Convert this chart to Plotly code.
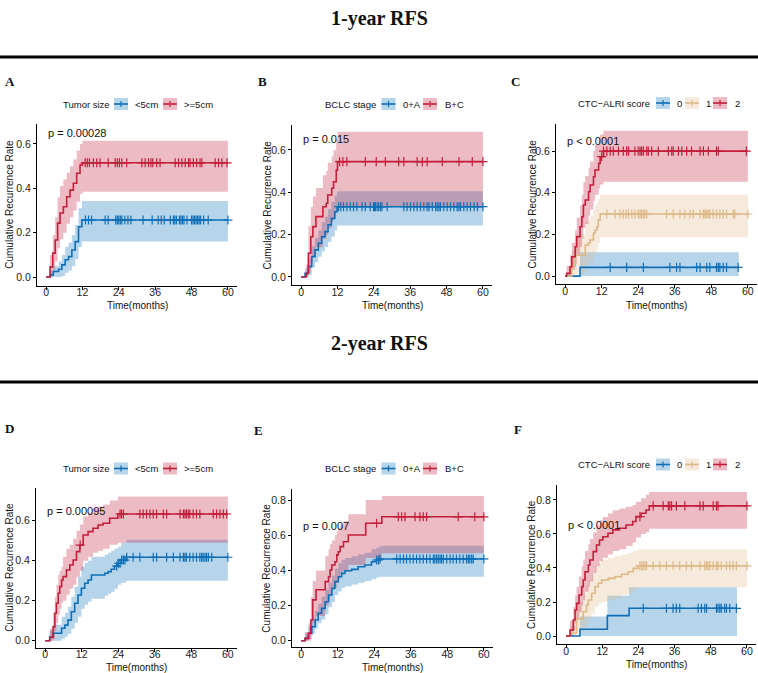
import numpy as np
import plotly.graph_objects as go

W, H = 758, 673

# ---------------- data ----------------
time_ticks = [0, 12, 24, 36, 48, 60]
rate_ticks_1 = [0.0, 0.2, 0.4, 0.6]
rate_ticks_2 = [0.0, 0.2, 0.4, 0.6, 0.8]

row_titles = ["1-year RFS", "2-year RFS"]

# Panel A: 1-year, tumor size
a_lt5_t   = [0, 1.3, 2.4, 4.1, 5.2, 6.3, 7.4, 8.5, 9.6, 10.7, 11.8, 60]
a_lt5_est = [0, 0.01, 0.025, 0.035, 0.055, 0.078, 0.092, 0.122, 0.16, 0.227, 0.257, 0.257]
a_lt5_lo  = [0, 0, 0, 0, 0.005, 0.02, 0.03, 0.05, 0.08, 0.135, 0.16, 0.16]
a_lt5_hi  = [0, 0.03, 0.05, 0.07, 0.1, 0.135, 0.155, 0.19, 0.235, 0.31, 0.343, 0.343]
a_lt5_cens = [13, 14, 15, 19.5, 20.5, 23, 23.5, 24, 24.5, 25, 26, 27, 28, 32, 35, 37, 38, 39, 41,
              42, 42.5, 43, 44, 44.5, 45, 45.5, 46.5, 48, 48.5, 49, 49.5, 50, 50.5, 51, 52, 53.5, 60]
a_ge5_t   = [0, 1.3, 2.2, 3.0, 3.8, 4.6, 5.7, 6.8, 7.9, 9.0, 10.1, 11.2, 12.0, 60]
a_ge5_est = [0, 0.046, 0.108, 0.167, 0.243, 0.289, 0.317, 0.362, 0.392, 0.423, 0.468, 0.505, 0.515, 0.515]
a_ge5_lo  = [0, 0, 0.03, 0.07, 0.13, 0.17, 0.2, 0.24, 0.27, 0.3, 0.34, 0.375, 0.385, 0.385]
a_ge5_hi  = [0, 0.1, 0.19, 0.27, 0.36, 0.41, 0.44, 0.47, 0.5, 0.53, 0.57, 0.6, 0.615, 0.615]
a_ge5_cens = [12.9, 13.6, 14.3, 15.6, 16.7, 17.8, 20.5, 22.8, 23.5, 24.2, 25, 26.6, 31.6, 32.7, 33.8,
              34.6, 35.2, 36.5, 37.6, 42.6, 43.7, 44.8, 45.9, 47, 47.5, 48.6, 49.7, 50.8, 51.4, 55.8,
              56.9, 58, 59.7]

# Panel B: 1-year, BCLC stage
b_0a_t   = [0, 1.3, 2.4, 3.5, 4.6, 5.7, 6.8, 7.9, 8.9, 10.0, 11.1, 11.9, 60]
b_0a_est = [0, 0.017, 0.049, 0.096, 0.128, 0.159, 0.19, 0.214, 0.246, 0.277, 0.308, 0.332, 0.332]
b_0a_lo  = [0, 0, 0.01, 0.045, 0.07, 0.095, 0.12, 0.14, 0.165, 0.19, 0.22, 0.243, 0.243]
b_0a_hi  = [0, 0.04, 0.085, 0.145, 0.185, 0.22, 0.26, 0.285, 0.32, 0.355, 0.385, 0.405, 0.405]
b_0a_cens = [12.4, 13.1, 14, 15.1, 16.2, 17.3, 18.4, 20.1, 21.2, 22.8, 23.9, 24.2, 24.5, 25.1, 25.6,
             26.2, 26.7, 28.4, 33.9, 35, 36.1, 37.2, 38.3, 39.4, 40.5, 41.6, 42.2, 43.3, 44.4, 44.9,
             45.5, 46, 47.1, 48.2, 49.3, 50.4, 51.5, 52.1, 52.6, 53.7, 54.8, 55.9, 57.1, 58.2, 60]
b_bc_t   = [0, 1.7, 2.4, 3.2, 3.9, 4.9, 7.2, 8.3, 8.8, 10.1, 10.7, 11.6, 12.0, 60]
b_bc_est = [0, 0.017, 0.112, 0.19, 0.238, 0.285, 0.332, 0.348, 0.387, 0.419, 0.45, 0.505, 0.545, 0.545]
b_bc_lo  = [0, 0, 0.02, 0.07, 0.1, 0.14, 0.18, 0.2, 0.23, 0.26, 0.28, 0.31, 0.33, 0.33]
b_bc_hi  = [0, 0.06, 0.24, 0.33, 0.38, 0.42, 0.48, 0.5, 0.54, 0.57, 0.6, 0.65, 0.686, 0.686]
b_bc_cens = [12.7, 13.8, 15.1, 21.2, 24.8, 27.8, 32.2, 33.9, 38.3, 40, 41.6, 46.6, 52.1, 56.5, 60]

# Panel C: 1-year, CTC-ALRI score
c0_t   = [0, 4.9, 57]
c0_est = [0, 0.042, 0.042]
c0_lo  = [0, 0, 0]
c0_hi  = [0, 0.114, 0.114]
c0_cens = [14.8, 20.2, 25.7, 34.4, 36.6, 37.7, 43.2, 44.3, 46.5, 47.5, 49.7, 50.3, 50.8, 51.9, 53, 56.8]
c1_t   = [0, 2.2, 3.3, 6.6, 7.7, 8.2, 9.3, 9.8, 10.4, 10.9, 11.5, 60]
c1_est = [0, 0.05, 0.1, 0.149, 0.16, 0.173, 0.205, 0.22, 0.237, 0.27, 0.298, 0.298]
c1_lo  = [0, 0, 0.01, 0.05, 0.06, 0.07, 0.1, 0.11, 0.13, 0.16, 0.185, 0.185]
c1_hi  = [0, 0.12, 0.2, 0.26, 0.27, 0.29, 0.32, 0.34, 0.35, 0.37, 0.392, 0.392]
c1_cens = [13.7, 16.4, 18, 19.1, 20, 20.8, 21.9, 22.9, 24, 24.6, 25.1, 25.7, 26.2, 26.8, 33.3, 35.5,
           37.7, 39.3, 41, 42.1, 44.3, 45.4, 45.9, 46.4, 47, 47.5, 48.6, 49.7, 50.8, 51.9, 53, 55.2,
           55.7, 60]
c2_t   = [0, 0.5, 1.6, 2.2, 3.3, 3.8, 4.9, 5.5, 6.0, 6.6, 7.7, 8.2, 9.3, 9.8, 11.0, 11.5, 12.6, 60]
c2_est = [0, 0.013, 0.045, 0.093, 0.141, 0.189, 0.237, 0.285, 0.341, 0.365, 0.405, 0.437, 0.477,
          0.509, 0.541, 0.573, 0.6, 0.6]
c2_lo  = [0, 0, 0, 0.03, 0.06, 0.1, 0.14, 0.18, 0.23, 0.25, 0.29, 0.32, 0.36, 0.39, 0.42, 0.44,
          0.453, 0.453]
c2_hi  = [0, 0.05, 0.1, 0.16, 0.22, 0.28, 0.34, 0.39, 0.45, 0.48, 0.52, 0.55, 0.6, 0.63, 0.66, 0.68,
          0.698, 0.698]
c2_cens = [12, 12.6, 13.7, 14.8, 15.8, 17.5, 19.1, 20.2, 20.8, 22.9, 24, 24.6, 25.1, 25.7, 26.8, 27.3,
           28.4, 30.6, 33.9, 35, 35.5, 37.2, 38.3, 39.9, 41.5, 44.3, 45.4, 47, 49.7, 50.3, 59.5]

# Panel D: 2-year, tumor size
d_lt5_t   = [0, 1.5, 2.6, 5.4, 6.5, 7.5, 8.6, 9.7, 10.8, 11.9, 13.0, 14.1, 15.2, 19.6, 20.7, 21.7,
             22.8, 23.9, 25.0, 26.7, 60]
d_lt5_est = [0, 0.017, 0.037, 0.062, 0.078, 0.103, 0.145, 0.187, 0.228, 0.262, 0.287, 0.303, 0.328,
             0.337, 0.345, 0.357, 0.373, 0.387, 0.403, 0.417, 0.417]
d_lt5_lo  = [0, 0, 0, 0.01, 0.02, 0.035, 0.06, 0.09, 0.12, 0.16, 0.18, 0.195, 0.21, 0.225, 0.235,
             0.245, 0.26, 0.28, 0.29, 0.3, 0.3]
d_lt5_hi  = [0, 0.05, 0.08, 0.12, 0.14, 0.17, 0.22, 0.27, 0.32, 0.37, 0.39, 0.4, 0.42, 0.43, 0.44,
             0.45, 0.46, 0.47, 0.49, 0.505, 0.505]
d_lt5_cens = [23.5, 24.1, 24.6, 25.1, 25.7, 26.2, 26.8, 28.9, 31.1, 35.5, 36.6, 39.9, 42.1, 44.3, 45.4,
              45.9, 46.4, 47.5, 48.6, 49.7, 50.8, 51.4, 51.9, 52.5, 53, 53.6, 54.7, 60]
d_ge5_t   = [0, 1.5, 2.6, 3.2, 3.7, 4.3, 4.8, 5.4, 5.9, 7.0, 8.1, 9.2, 10.3, 11.4, 12.5, 14.1, 15.7,
             17.4, 19.0, 21.2, 23.9, 60]
d_ge5_est = [0, 0.017, 0.07, 0.137, 0.187, 0.237, 0.27, 0.303, 0.32, 0.353, 0.378, 0.403, 0.445,
             0.478, 0.528, 0.545, 0.562, 0.578, 0.587, 0.612, 0.633, 0.633]
d_ge5_lo  = [0, 0, 0.01, 0.05, 0.09, 0.13, 0.16, 0.19, 0.2, 0.23, 0.26, 0.28, 0.32, 0.35, 0.4, 0.42,
             0.44, 0.45, 0.46, 0.48, 0.49, 0.49]
d_ge5_hi  = [0, 0.06, 0.14, 0.22, 0.28, 0.33, 0.35, 0.37, 0.42, 0.46, 0.48, 0.51, 0.55, 0.58, 0.62,
             0.64, 0.66, 0.67, 0.68, 0.7, 0.72, 0.72]
d_ge5_cens = [11.5, 24.6, 25.1, 25.7, 31.1, 32.2, 33.3, 34.4, 35.5, 36.6, 38.8, 39.9, 44.3, 45.4, 45.9,
              46.4, 47, 47.5, 48.6, 49.7, 50.8, 55.2, 56.3, 57.4, 58.5, 59.6]

# Panel E: 2-year, BCLC stage
e_0a_t   = [0, 1.3, 2.4, 3.5, 4.6, 5.6, 6.7, 7.9, 9.0, 10.1, 11.1, 12.2, 13.3, 14.4, 16.6, 18.7, 20.9,
            23.1, 24.7, 25.8, 60]
e_0a_est = [0, 0.013, 0.042, 0.08, 0.118, 0.156, 0.184, 0.222, 0.26, 0.298, 0.336, 0.364, 0.383,
            0.398, 0.406, 0.421, 0.431, 0.449, 0.459, 0.465, 0.465]
e_0a_lo  = [0, 0, 0.01, 0.04, 0.07, 0.1, 0.12, 0.15, 0.19, 0.22, 0.26, 0.28, 0.3, 0.31, 0.32, 0.33,
            0.34, 0.35, 0.36, 0.364, 0.364]
e_0a_hi  = [0, 0.04, 0.08, 0.13, 0.17, 0.21, 0.25, 0.29, 0.33, 0.37, 0.41, 0.44, 0.46, 0.47, 0.48,
            0.49, 0.5, 0.52, 0.53, 0.54, 0.54]
e_0a_cens = [24.8, 25.4, 25.9, 31.4, 32.5, 33.6, 34.6, 35.7, 36.8, 37.9, 39, 40.1, 41.2, 42.3, 43.4,
             43.9, 44.5, 45, 45.6, 46.1, 46.7, 47.8, 48.9, 49.9, 51, 52.1, 53.2, 54.3, 54.9, 55.4, 56,
             56.5, 60]
e_bc_t   = [0, 1.3, 2.4, 3.2, 3.8, 4.9, 7.9, 9.0, 9.5, 10.1, 11.1, 11.7, 12.2, 12.8, 13.9, 15.5, 21.2,
            26.5, 60]
e_bc_est = [0, 0.013, 0.042, 0.118, 0.232, 0.29, 0.336, 0.364, 0.402, 0.431, 0.449, 0.488, 0.506,
            0.535, 0.563, 0.601, 0.668, 0.705, 0.705]
e_bc_lo  = [0, 0, 0, 0.03, 0.1, 0.14, 0.2, 0.23, 0.26, 0.29, 0.3, 0.33, 0.35, 0.38, 0.4, 0.43, 0.47,
            0.497, 0.497]
e_bc_hi  = [0, 0.05, 0.1, 0.25, 0.34, 0.4, 0.48, 0.52, 0.55, 0.57, 0.6, 0.62, 0.64, 0.66, 0.68, 0.72,
            0.8, 0.823, 0.823]
e_bc_cens = [24.8, 31.9, 33, 34.1, 37.4, 39, 40.1, 41.2, 51.6, 57, 60]

# Panel F: 2-year, CTC-ALRI score
f0_t   = [0, 4.6, 13.7, 20.9, 56.7]
f0_est = [0, 0.04, 0.12, 0.163, 0.163]
f0_lo  = [0, 0, 0, 0, 0]
f0_hi  = [0, 0.115, 0.237, 0.286, 0.286]
f0_cens = [25.6, 33.3, 35.5, 36.6, 37.7, 43.8, 44.9, 46, 46.6, 49.9, 50.4, 51, 51.5, 52.6, 53.2, 54.3,
           56.5]
f1_t   = [0, 1.3, 3.5, 5.7, 6.8, 7.4, 8.5, 9.6, 10.7, 11.8, 14.0, 16.2, 18.4, 20.6, 22.3, 23.9, 60]
f1_est = [0, 0.016, 0.1, 0.143, 0.182, 0.212, 0.251, 0.29, 0.31, 0.329, 0.339, 0.349, 0.363, 0.378,
          0.398, 0.413, 0.413]
f1_lo  = [0, 0, 0.02, 0.05, 0.08, 0.1, 0.13, 0.17, 0.19, 0.2, 0.21, 0.22, 0.24, 0.25, 0.27, 0.286, 0.286]
f1_hi  = [0, 0.06, 0.2, 0.25, 0.3, 0.33, 0.37, 0.41, 0.43, 0.45, 0.46, 0.47, 0.48, 0.49, 0.5, 0.51, 0.51]
f1_cens = [24.5, 25.1, 25.6, 26.2, 26.7, 28.9, 31.1, 33.3, 35.5, 37.7, 39.9, 41.6, 44.4, 46, 46.6, 47.1,
           47.7, 48.8, 49.9, 50.4, 51.5, 53.2, 54.3, 55.4, 56.5, 60]
f2_t   = [0, 1.3, 2.4, 3.0, 3.5, 4.3, 5.2, 5.7, 6.3, 7.4, 7.9, 9.0, 10.1, 11.1, 12.2, 13.9, 15.5, 17.7,
          19.9, 22.1, 23.2, 24.9, 26.5, 27.6, 60]
f2_est = [0, 0.035, 0.094, 0.153, 0.192, 0.241, 0.29, 0.329, 0.378, 0.418, 0.447, 0.496, 0.535, 0.565,
          0.584, 0.604, 0.624, 0.634, 0.653, 0.673, 0.702, 0.722, 0.741, 0.765, 0.765]
f2_lo  = [0, 0, 0.03, 0.07, 0.1, 0.14, 0.18, 0.21, 0.26, 0.29, 0.32, 0.37, 0.41, 0.44, 0.46, 0.48,
          0.5, 0.51, 0.53, 0.55, 0.58, 0.6, 0.61, 0.631, 0.631]
f2_hi  = [0, 0.09, 0.17, 0.24, 0.29, 0.35, 0.41, 0.45, 0.5, 0.54, 0.57, 0.61, 0.65, 0.68, 0.7, 0.72,
          0.74, 0.75, 0.76, 0.77, 0.79, 0.81, 0.83, 0.847, 0.847]
f2_cens = [24.5, 28.9, 32.2, 33.9, 34.4, 35, 36.6, 39.4, 44.4, 45.5, 48.8, 49.9, 50.4, 60]

# ---------------- styles ----------------
BLUE = "#0E6FB8"
RED = "#C41E3A"
TAN = "#DEB887"
ALPHA = 0.3
SANS = "Liberation Sans, Arial, sans-serif"
SERIF = "Liberation Serif, Times New Roman, serif"


def rgba(hexc, a):
    h = hexc.lstrip("#")
    r, g, b = int(h[0:2], 16), int(h[2:4], 16), int(h[4:6], 16)
    return f"rgba({r},{g},{b},{a})"


def px_x(px):
    return px / W


def px_y(py):
    return 1 - py / H


panels = [
    dict(letter="A", legend_title="Tumor size", pval="p = 0.00028", yticks=rate_ticks_1,
         curves=[("<5cm", BLUE, a_lt5_t, a_lt5_est, a_lt5_lo, a_lt5_hi, a_lt5_cens),
                 (">=5cm", RED, a_ge5_t, a_ge5_est, a_ge5_lo, a_ge5_hi, a_ge5_cens)]),
    dict(letter="B", legend_title="BCLC stage", pval="p = 0.015", yticks=rate_ticks_1,
         curves=[("0+A", BLUE, b_0a_t, b_0a_est, b_0a_lo, b_0a_hi, b_0a_cens),
                 ("B+C", RED, b_bc_t, b_bc_est, b_bc_lo, b_bc_hi, b_bc_cens)]),
    dict(letter="C", legend_title="CTC\u2212ALRI score", pval="p < 0.0001", yticks=rate_ticks_1,
         curves=[("0", BLUE, c0_t, c0_est, c0_lo, c0_hi, c0_cens),
                 ("1", TAN, c1_t, c1_est, c1_lo, c1_hi, c1_cens),
                 ("2", RED, c2_t, c2_est, c2_lo, c2_hi, c2_cens)]),
    dict(letter="D", legend_title="Tumor size", pval="p = 0.00095", yticks=rate_ticks_1,
         curves=[("<5cm", BLUE, d_lt5_t, d_lt5_est, d_lt5_lo, d_lt5_hi, d_lt5_cens),
                 (">=5cm", RED, d_ge5_t, d_ge5_est, d_ge5_lo, d_ge5_hi, d_ge5_cens)]),
    dict(letter="E", legend_title="BCLC stage", pval="p = 0.007", yticks=rate_ticks_2,
         curves=[("0+A", BLUE, e_0a_t, e_0a_est, e_0a_lo, e_0a_hi, e_0a_cens),
                 ("B+C", RED, e_bc_t, e_bc_est, e_bc_lo, e_bc_hi, e_bc_cens)]),
    dict(letter="F", legend_title="CTC\u2212ALRI score", pval="p < 0.0001", yticks=rate_ticks_2,
         curves=[("0", BLUE, f0_t, f0_est, f0_lo, f0_hi, f0_cens),
                 ("1", TAN, f1_t, f1_est, f1_lo, f1_hi, f1_cens),
                 ("2", RED, f2_t, f2_est, f2_lo, f2_hi, f2_cens)]),
]

# layout geometry in pixels
geom = [
    dict(xpx=(37, 237), ypx=(124, 285.5), yr=(-0.038, 0.69), letter=(3, 81), leg_y=104,
         ylab_x=10, xlab_y=306, leg_title_x=61, keys=[(114, 133), (163, 182)]),
    dict(xpx=(292, 492), ypx=(125, 285), yr=(-0.038, 0.718), letter=(256, 81), leg_y=104,
         ylab_x=266.5, xlab_y=306, leg_title_x=322.5, keys=[(381.5, 401.5), (423, 443)]),
    dict(xpx=(556, 757), ypx=(124, 284), yr=(-0.038, 0.73), letter=(509, 81), leg_y=103,
         ylab_x=531.5, xlab_y=306, leg_title_x=576, keys=[(656, 675), (685, 704), (713, 733)]),
    dict(xpx=(36, 237), ypx=(488, 647.5), yr=(-0.034, 0.763), letter=(3, 429), leg_y=468.5,
         ylab_x=10, xlab_y=667, leg_title_x=61, keys=[(114, 133), (163, 182)]),
    dict(xpx=(292, 493), ypx=(489, 647.3), yr=(-0.0375, 0.863), letter=(252, 431), leg_y=468.5,
         ylab_x=266.5, xlab_y=667, leg_title_x=322.5, keys=[(381.5, 401.5), (423, 443)]),
    dict(xpx=(557, 756), ypx=(485, 644), yr=(-0.047, 0.888), letter=(512, 430), leg_y=464.5,
         ylab_x=531.5, xlab_y=664, leg_title_x=576, keys=[(656, 675), (685, 704), (713, 733)]),
]

fig = go.Figure()
annotations = []
shapes = []


def add_text(text, px, py, size, family=SANS, xanchor="left", yanchor="middle", angle=0,
             color="#111111"):
    annotations.append(dict(text=text, x=px_x(px), y=px_y(py), xref="paper", yref="paper",
                            xanchor=xanchor, yanchor=yanchor, showarrow=False, textangle=angle,
                            font=dict(size=size, family=family, color=color)))


for i, (p, g) in enumerate(zip(panels, geom), start=1):
    xa = "x" if i == 1 else f"x{i}"
    ya = "y" if i == 1 else f"y{i}"
    xkey = "xaxis" if i == 1 else f"xaxis{i}"
    ykey = "yaxis" if i == 1 else f"yaxis{i}"

    fig.layout[xkey] = dict(
        domain=[px_x(g["xpx"][0]), px_x(g["xpx"][1])], range=[-3, 63], anchor=ya,
        tickvals=time_ticks, showgrid=False, zeroline=False, showline=True, linecolor="black",
        linewidth=1, ticks="outside", ticklen=3, tickwidth=1, tickcolor="black",
        ticklabelstandoff=-6,
        tickfont=dict(size=10.5, family=SANS, color="#222222"), fixedrange=True)
    fig.layout[ykey] = dict(
        domain=[px_y(g["ypx"][1]), px_y(g["ypx"][0])], range=list(g["yr"]), anchor=xa,
        tickvals=p["yticks"], tickformat=".1f", showgrid=False, zeroline=False, showline=True,
        linecolor="black", linewidth=1, ticks="outside", ticklen=3, tickwidth=1,
        tickcolor="black", tickfont=dict(size=10.5, family=SANS, color="#222222"),
        fixedrange=True)

    # confidence ribbons
    for name, col, t, est, lo, hi, cens in p["curves"]:
        fig.add_trace(go.Scatter(x=t, y=lo, mode="lines", line=dict(width=0, shape="hv"),
                                 xaxis=xa, yaxis=ya, showlegend=False, hoverinfo="skip"))
        fig.add_trace(go.Scatter(x=t, y=hi, mode="lines", line=dict(width=0, shape="hv"),
                                 fill="tonexty", fillcolor=rgba(col, ALPHA),
                                 xaxis=xa, yaxis=ya, showlegend=False, hoverinfo="skip"))
    # step lines
    for name, col, t, est, lo, hi, cens in p["curves"]:
        fig.add_trace(go.Scatter(x=t, y=est, mode="lines", line=dict(width=1.6, color=col,
                                 shape="hv"), xaxis=xa, yaxis=ya, showlegend=False, name=name))
    # censor marks
    for name, col, t, est, lo, hi, cens in p["curves"]:
        tt = np.array(t, dtype=float)
        ee = np.array(est, dtype=float)
        idx = np.searchsorted(tt, np.array(cens, dtype=float), side="right") - 1
        idx = np.clip(idx, 0, len(ee) - 1)
        fig.add_trace(go.Scatter(x=cens, y=ee[idx], mode="markers",
                                 marker=dict(symbol="cross-thin", size=6.5,
                                             line=dict(width=1.2, color=col), color=col),
                                 xaxis=xa, yaxis=ya, showlegend=False, hoverinfo="skip"))

    # p-value
    annotations.append(dict(text=p["pval"], x=0, y=0.65, xref=xa, yref=ya, xanchor="left",
                            yanchor="middle", showarrow=False,
                            font=dict(size=11, family=SANS, color="#111111")))
    # panel letter
    add_text(f"<b>{p['letter']}</b>", g["letter"][0], g["letter"][1], 13, family=SERIF)
    # axis titles
    add_text("Time(months)", (g["xpx"][0] + g["xpx"][1]) / 2, g["xlab_y"], 10,
             xanchor="center")
    add_text("Cumulative Recurrence Rate", g["ylab_x"], (g["ypx"][0] + g["ypx"][1]) / 2, 10,
             xanchor="center", angle=-90)
    # legend
    ly = g["leg_y"]
    add_text(p["legend_title"], g["leg_title_x"], ly, 9.5)
    for (name, col, *_rest), (kx, lx) in zip(p["curves"], g["keys"]):
        kw, kh = 14, 12
        shapes.append(dict(type="rect", xref="paper", yref="paper", x0=px_x(kx),
                           x1=px_x(kx + kw), y0=px_y(ly + kh / 2), y1=px_y(ly - kh / 2),
                           fillcolor=rgba(col, ALPHA), line=dict(width=0)))
        shapes.append(dict(type="line", xref="paper", yref="paper", x0=px_x(kx),
                           x1=px_x(kx + kw), y0=px_y(ly), y1=px_y(ly),
                           line=dict(color=col, width=1.6)))
        shapes.append(dict(type="line", xref="paper", yref="paper", x0=px_x(kx + kw / 2),
                           x1=px_x(kx + kw / 2), y0=px_y(ly - 3), y1=px_y(ly + 3),
                           line=dict(color=col, width=1.2)))
        add_text(name, lx, ly, 9.5)

# row titles and rules
add_text(f"<b>{row_titles[0]}</b>", W / 2, 18, 20, family=SERIF, xanchor="center")
add_text(f"<b>{row_titles[1]}</b>", W / 2, 343, 20, family=SERIF, xanchor="center")
for ry in (57, 382):
    shapes.append(dict(type="line", xref="paper", yref="paper", x0=0, x1=1, y0=px_y(ry),
                       y1=px_y(ry), line=dict(color="black", width=3)))

fig.update_layout(width=W, height=H, margin=dict(l=0, r=0, t=0, b=0), autosize=False,
                  paper_bgcolor="white", plot_bgcolor="white", showlegend=False,
                  annotations=annotations, shapes=shapes)

fig.write_html("out.html")
